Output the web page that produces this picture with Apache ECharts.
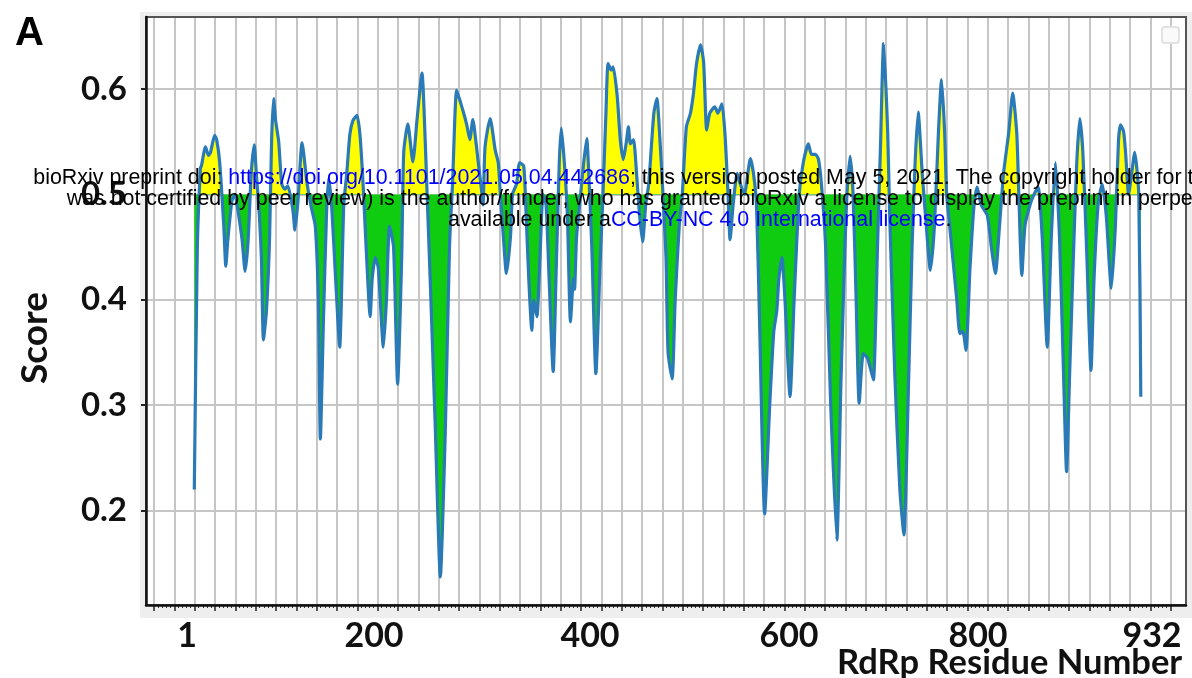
<!DOCTYPE html>
<html>
<head>
<meta charset="utf-8">
<script src="https://cdn.jsdelivr.net/npm/echarts@6/dist/echarts.min.js"></script>
<style>html,body{margin:0;padding:0;background:#fff}#c{width:1192px;height:678px}</style>
</head>
<body>
<div id="c"></div>
<script>
// ---- data ----
const residues = [
  1,4,7,8,12,15,17,21,23,26,
  30,32,34,38,41,44,48,51,54,57,
  60,62,65,67,69,72,75,77,79,81,
  84,87,90,93,98,100,103,107,112,116,
  120,123,125,128,131,133,136,140,144,148,
  151,154,157,161,164,167,170,174,176,179,
  182,187,190,193,197,201,205,207,211,216,
  220,225,227,230,233,238,243,248,252,255,
  259,262,266,269,272,275,278,280,284,285,
  287,292,297,300,302,305,308,312,314,318,
  321,325,327,330,333,335,338,341,344,347,
  350,354,357,360,362,365,368,371,374,375,
  377,381,384,387,389,392,396,400,403,406,
  408,411,413,417,420,423,426,428,430,433,
  436,439,442,445,448,453,456,459,462,465,
  467,471,474,478,481,485,489,492,495,499,
  502,505,508,513,516,520,523,526,528,531,
  535,538,542,548,551,554,557,562,567,571,
  574,576,579,582,587,591,596,600,605,608,
  612,615,618,622,627,633,637,641,643,646,
  649,652,655,659,663,666,669,673,676,679,
  683,685,690,695,699,703,707,710,713,717,
  721,725,729,733,736,739,741,744,748,751,
  754,757,760,764,768,771,775,781,785,789,
  793,797,802,806,810,812,815,818,823,827,
  831,835,840,844,848,852,856,859,862,866,
  869,872,875,879,883,886,890,894,898,903,
  907,910,912,915,917,920,923,926,930,932
];
const scores = [
  0.220,0.45,0.525,0.527,0.545,0.537,0.54,0.556,0.552,0.530,
  0.47,0.432,0.457,0.494,0.50,0.484,0.457,0.427,0.457,0.52,
  0.547,0.52,0.48,0.44,0.362,0.39,0.457,0.55,0.591,0.57,
  0.55,0.51,0.505,0.508,0.485,0.466,0.494,0.549,0.51,0.488,
  0.47,0.40,0.268,0.38,0.48,0.515,0.49,0.42,0.355,0.49,
  0.52,0.557,0.570,0.575,0.556,0.51,0.45,0.384,0.42,0.44,
  0.43,0.355,0.40,0.47,0.45,0.32,0.44,0.54,0.567,0.531,
  0.57,0.615,0.58,0.50,0.42,0.28,0.137,0.28,0.45,0.51,
  0.599,0.59,0.577,0.566,0.552,0.571,0.55,0.533,0.50,0.49,
  0.545,0.572,0.542,0.53,0.50,0.46,0.425,0.46,0.50,0.51,
  0.53,0.527,0.49,0.42,0.371,0.40,0.384,0.44,0.50,0.49,
  0.42,0.332,0.43,0.53,0.563,0.53,0.48,0.379,0.42,0.41,
  0.46,0.50,0.53,0.553,0.52,0.45,0.33,0.43,0.50,0.58,
  0.624,0.618,0.621,0.593,0.552,0.533,0.55,0.564,0.548,0.552,
  0.52,0.48,0.455,0.49,0.51,0.577,0.591,0.552,0.50,0.44,
  0.35,0.325,0.40,0.47,0.50,0.564,0.577,0.596,0.624,0.642,
  0.625,0.561,0.577,0.583,0.577,0.586,0.557,0.50,0.457,0.49,
  0.52,0.51,0.50,0.534,0.52,0.49,0.38,0.197,0.30,0.37,
  0.39,0.42,0.44,0.40,0.308,0.40,0.50,0.53,0.548,0.538,
  0.538,0.533,0.508,0.45,0.30,0.172,0.32,0.45,0.50,0.536,
  0.50,0.40,0.302,0.349,0.345,0.335,0.324,0.45,0.547,0.643,
  0.56,0.48,0.33,0.22,0.177,0.30,0.45,0.53,0.578,0.52,
  0.47,0.428,0.47,0.56,0.609,0.56,0.50,0.47,0.43,0.40,
  0.368,0.37,0.352,0.43,0.49,0.507,0.49,0.48,0.45,0.425,
  0.47,0.52,0.558,0.596,0.558,0.50,0.423,0.47,0.49,0.50,
  0.507,0.46,0.355,0.46,0.53,0.46,0.33,0.237,0.33,0.45,
  0.53,0.572,0.54,0.44,0.333,0.42,0.49,0.51,0.48,0.411,
  0.47,0.55,0.566,0.56,0.54,0.50,0.52,0.54,0.50,0.308
];
const threshold = 0.5;
const xTickLabels = ['1', '200', '400', '600', '800', '932'];
const yAxisRange = [0.2, 0.6];
const yTickStep = 0.1;
const xGridRange = [-40, 960];
const xGridStep = 20;
const titleLetter = 'A';
const yTitle = 'Score';
const xTitle = 'RdRp Residue Number';
const watermark = [
  {pre: 'bioRxiv preprint doi: ', link: 'https://doi.org/10.1101/2021.05.04.442686', post: '; this version posted May 5, 2021. The copyright holder for this preprint (which'},
  {pre: 'was not certified by peer review) is the author/funder, who has granted bioRxiv a license to display the preprint in perpetuity. It is made', link: '', post: ''},
  {pre: 'available under a', link: 'CC-BY-NC 4.0 International license', post: '.'}
];

// ---- layout (pixels) ----
const L = {
  left: 146, top: 17, right: 1186, bottom: 605,
  y06: 89, y02: 510.6,
  gx0: 154, gx1: 1170.7,
  res1px: 194.3, pxPerRes: 20.333 / 20,
  xLabelCenters: [187, 374, 590, 789, 978, 1152], xLabelY: 636,
  wmX: [33.3, 66.7, 448], wmY: [177.7, 199.2, 219.7]
};
const xMin = 1 - (L.res1px - L.left) / L.pxPerRes;
const xMax = 1 + (L.right - L.res1px) / L.pxPerRes;
const unitPerPx = (yAxisRange[1] - yAxisRange[0]) / (L.y02 - L.y06);
const yMax = yAxisRange[1] + (L.y06 - L.top) * unitPerPx;
const yMin = yAxisRange[0] - (L.bottom - L.y02) * unitPerPx;
const splitFrac = (yMax - threshold) / (yMax - yMin);

const YELLOW = '#ffff00', GREEN = '#10cc10', BLUE = '#2a7ab8', GRID = '#c6c6c6';
const boldFont = 'Lato, "Open Sans", sans-serif';
const wmFont = '21.4px "Liberation Sans", Arial, sans-serif';

const data = residues.map((r, i) => [r, scores[i]]);
const fillGradient = new echarts.graphic.LinearGradient(0, L.top, 0, L.bottom, [
  {offset: 0, color: YELLOW}, {offset: splitFrac, color: YELLOW},
  {offset: splitFrac, color: GREEN}, {offset: 1, color: GREEN}
], true);

const graphics = [
  {type: 'rect', z: -20, shape: {x: 140, y: 12, width: 1052, height: 606}, style: {fill: '#eeeeee'}},
  {type: 'rect', z: -19, shape: {x: L.left, y: L.top, width: L.right - L.left, height: L.bottom - L.top}, style: {fill: '#ffffff'}},
  {type: 'rect', z: 5, shape: {x: 1162, y: 27, width: 17, height: 16, r: 3}, style: {fill: '#fafafa', stroke: '#e2e2e2', lineWidth: 2}},
  {type: 'text', z: 10, x: 15, y: 34, style: {text: titleLetter, font: 'bold 40px "Liberation Sans", Arial, sans-serif', fill: '#000', textAlign: 'left', textVerticalAlign: 'middle'}},
  {type: 'text', z: 10, x: 35, y: 338, rotation: Math.PI / 2, style: {text: yTitle, font: 'bold 37px ' + boldFont, fill: '#111', textAlign: 'center', textVerticalAlign: 'middle'}},
  {type: 'text', z: 10, x: 837, y: 663, style: {text: xTitle, font: 'bold 34.5px ' + boldFont, fill: '#111', textAlign: 'left', textVerticalAlign: 'middle'}}
];
xTickLabels.forEach((t, i) => {
  graphics.push({type: 'text', z: 10, x: L.xLabelCenters[i], y: L.xLabelY,
    style: {text: t, font: 'bold 34px ' + boldFont, fill: '#111', textAlign: 'center', textVerticalAlign: 'middle'}});
});
watermark.forEach((w, i) => {
  let txt = w.pre;
  if (w.link) txt += '{u|' + w.link + '}';
  txt += w.post;
  graphics.push({type: 'text', z: 100, x: L.wmX[i], y: L.wmY[i],
    style: {text: txt, font: wmFont, fill: '#000',
      textAlign: 'left', textVerticalAlign: 'middle',
      rich: {u: {fill: '#0000ff', font: wmFont}}}});
});

const chart = echarts.init(document.getElementById('c'), null, {renderer: 'canvas'});
chart.setOption({
  animation: false,
  backgroundColor: '#ffffff',
  grid: [
    {left: L.left, top: L.top, width: L.right - L.left, height: L.bottom - L.top, show: true, backgroundColor: 'transparent', borderColor: '#555', borderWidth: 2, z: 4},
    {left: L.gx0, top: L.top, width: L.gx1 - L.gx0, height: L.bottom - L.top},
    {left: L.left, top: L.y06, width: L.right - L.left, height: L.y02 - L.y06}
  ],
  xAxis: [
    {gridIndex: 0, type: 'value', min: xMin, max: xMax, z: 6,
      axisLine: {show: true, onZero: false, lineStyle: {color: '#111', width: 2.5}},
      axisTick: {show: false}, axisLabel: {show: false}, splitLine: {show: false}},
    {gridIndex: 1, type: 'value', min: xGridRange[0], max: xGridRange[1], interval: xGridStep,
      axisLine: {show: false},
      axisTick: {show: true, length: 6, lineStyle: {color: '#222', width: 1.5}},
      minorTick: {show: true, splitNumber: 5, length: 3, lineStyle: {color: '#333', width: 1}},
      axisLabel: {show: false},
      splitLine: {show: true, lineStyle: {color: GRID, width: 2}}},
    {gridIndex: 2, type: 'value', show: false, min: 0, max: 1}
  ],
  yAxis: [
    {gridIndex: 0, type: 'value', min: yMin, max: yMax, z: 6,
      axisLine: {show: true, onZero: false, lineStyle: {color: '#111', width: 2.5}},
      axisTick: {show: false}, axisLabel: {show: false}, splitLine: {show: false}},
    {gridIndex: 1, type: 'value', show: false, min: 0, max: 1},
    {gridIndex: 2, type: 'value', min: yAxisRange[0], max: yAxisRange[1], interval: yTickStep,
      axisLine: {show: false},
      axisTick: {show: true, length: 5, lineStyle: {color: '#222', width: 2}},
      axisLabel: {show: true, margin: 19, formatter: v => v.toFixed(1),
        fontFamily: boldFont, fontWeight: 'bold', fontSize: 33, color: '#111'},
      splitLine: {show: true, lineStyle: {color: GRID, width: 2}}}
  ],
  series: [
    {type: 'line', name: 'fill', xAxisIndex: 0, yAxisIndex: 0, data: data,
      symbol: 'none', showSymbol: false, smooth: 0.2, silent: true, z: 2,
      lineStyle: {width: 0, opacity: 0},
      areaStyle: {origin: threshold, color: fillGradient, opacity: 1}},
    {type: 'line', name: 'Score', xAxisIndex: 0, yAxisIndex: 0, data: data,
      symbol: 'none', showSymbol: false, smooth: 0.2, silent: true, z: 3,
      lineStyle: {color: BLUE, width: 3.2}}
  ],
  graphic: graphics
});
</script>
</body>
</html>
